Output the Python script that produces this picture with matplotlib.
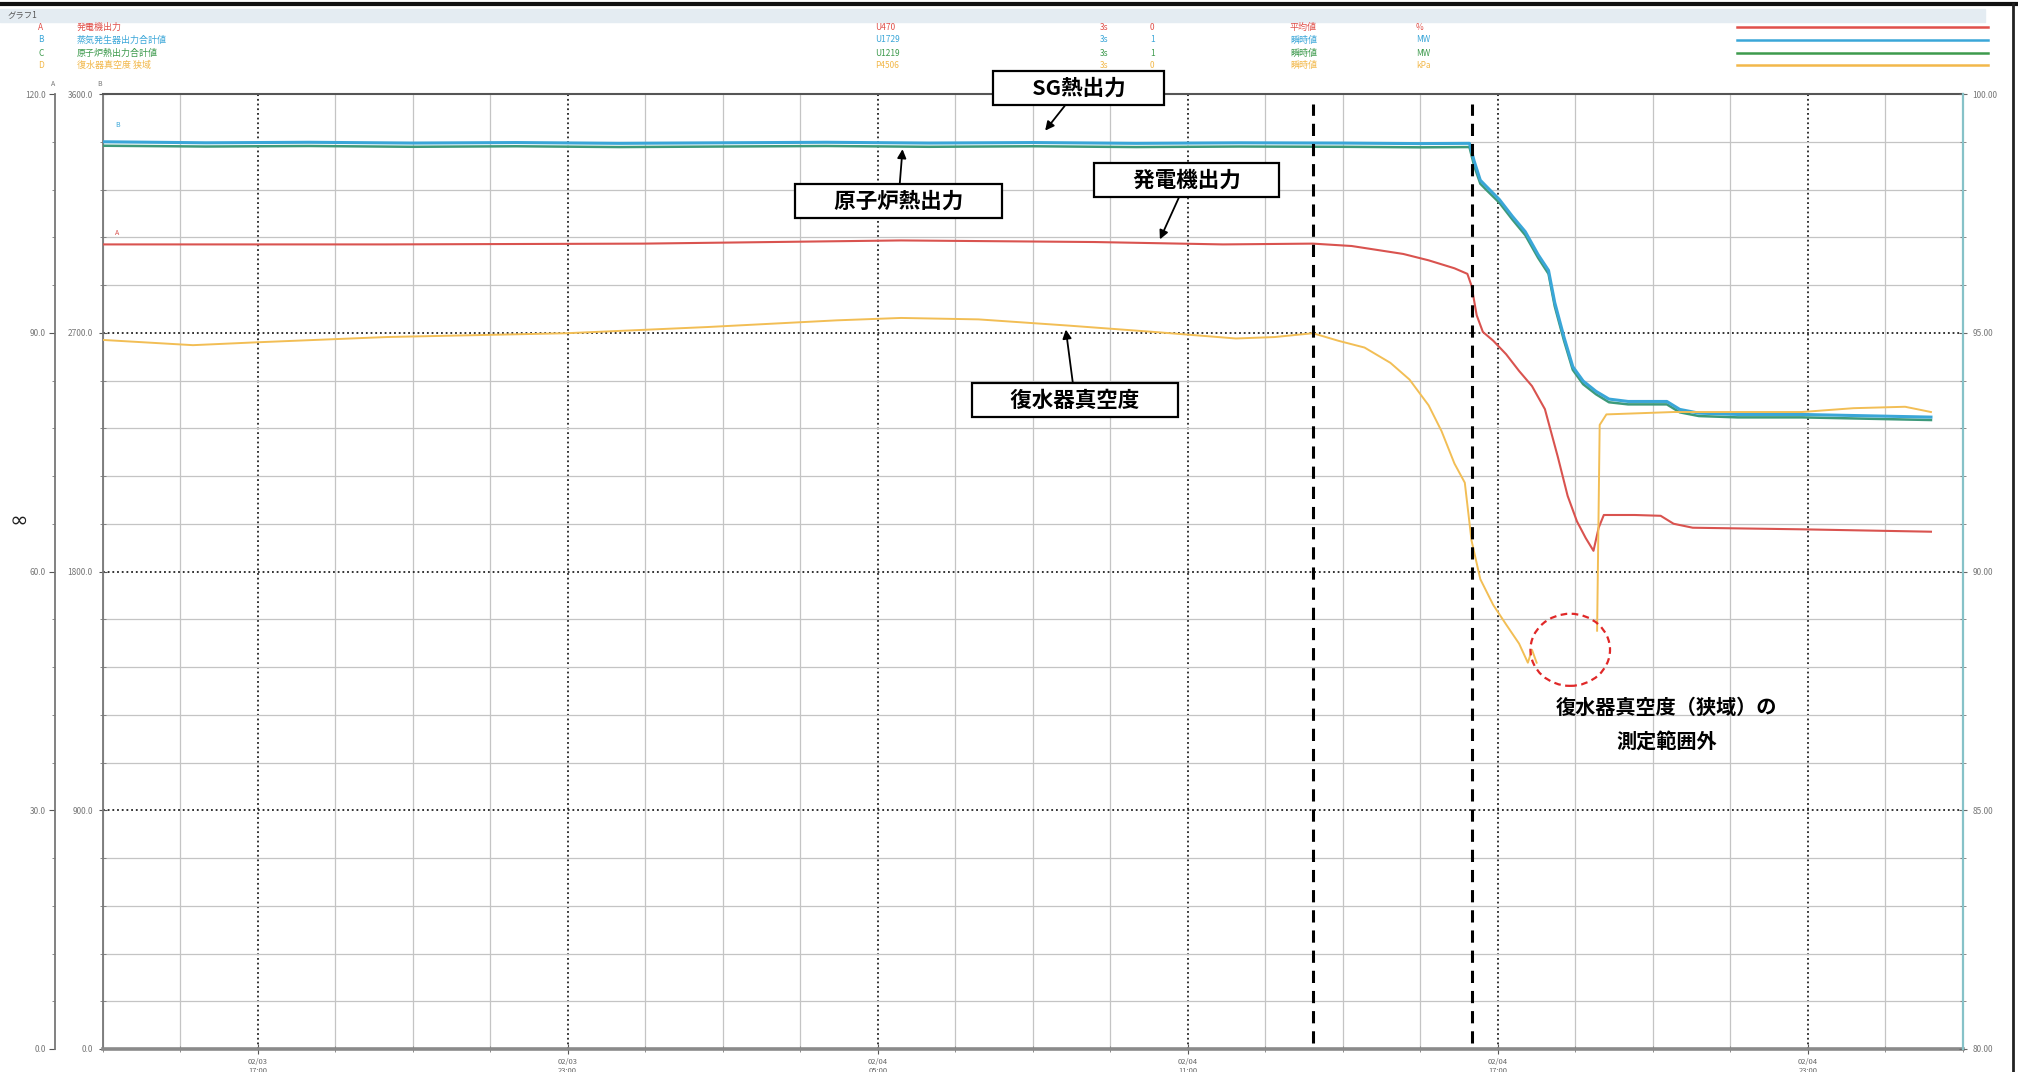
import matplotlib
matplotlib.use("Agg")
import matplotlib.pyplot as plt
from matplotlib.lines import Line2D
from matplotlib.patches import Ellipse, Rectangle
from matplotlib.ticker import MultipleLocator, FixedLocator, FixedFormatter
import numpy as np

plt.rcParams['font.family'] = ['Noto Sans CJK JP', 'DejaVu Sans']

# ---------------- data ----------------
hours_thermal = [0, 2, 4, 6, 8, 10, 12, 14, 16, 18, 20, 22, 24, 25.5, 26.45,
                 26.54, 26.66, 26.78, 27.03, 27.28, 27.53, 27.78, 27.98, 28.10,
                 28.28, 28.45, 28.65, 28.90, 29.15, 29.52, 30.27, 30.52, 30.89,
                 31.64, 32.88, 34.13, 35.38]
sg_output_mw = [3420, 3416, 3418, 3415, 3417, 3414, 3416, 3418, 3415, 3417, 3414,
                3416, 3415, 3413, 3414, 3348, 3275, 3251, 3202, 3139, 3081, 2994,
                2935, 2814, 2683, 2572, 2518, 2479, 2450, 2441, 2441, 2411, 2397,
                2392, 2392, 2387, 2382]
reactor_output_mw = [3405, 3402, 3404, 3401, 3403, 3400, 3402, 3404, 3401, 3403, 3400,
                     3402, 3401, 3399, 3400, 3330, 3262, 3238, 3190, 3127, 3068, 2982,
                     2922, 2800, 2670, 2560, 2506, 2468, 2438, 2430, 2430, 2400, 2386,
                     2381, 2381, 2376, 2371]

hours_gen = [0, 5.49, 10.47, 15.45, 19.19, 21.68, 23.42, 24.17, 24.67, 25.17, 25.66,
             26.16, 26.41, 26.49, 26.59, 26.71, 26.91, 27.16, 27.41, 27.66, 27.91,
             28.16, 28.35, 28.53, 28.70, 28.85, 28.95, 29.05, 29.65, 30.15, 30.40,
             30.77, 32.88, 35.38]
generator_output_pct = [101.1, 101.1, 101.2, 101.6, 101.4, 101.1, 101.2, 100.9, 100.4,
                        99.9, 99.1, 98.1, 97.4, 95.9, 92.2, 90.1, 89.0, 87.3, 85.2, 83.3,
                        80.4, 74.4, 69.5, 66.3, 64.2, 62.6, 65.5, 67.1, 67.1, 67.0, 66.0,
                        65.5, 65.3, 65.0]

hours_vac = [0, 1.75, 2.99, 5.49, 8.98, 11.71, 14.21, 15.45, 16.95, 18.69, 20.43, 21.93,
             22.68, 23.42, 23.92, 24.42, 24.92, 25.29, 25.66, 25.91, 26.16, 26.36, 26.49,
             26.66, 26.91, 27.16, 27.41, 27.58, 27.66, 27.75, 28.3, 28.92, 28.97, 29.10,
             30.40, 32.88, 33.88, 34.88, 35.38]
vacuum_kpa = [94.85, 94.74, 94.80, 94.91, 94.99, 95.12, 95.26, 95.31, 95.28, 95.15, 95.01,
              94.88, 94.91, 94.99, 94.83, 94.69, 94.37, 94.02, 93.48, 92.94, 92.26, 91.86,
              90.65, 89.84, 89.30, 88.89, 88.49, 88.09, 88.36, 88.09, np.nan, 88.76, 93.07,
              93.29, 93.34, 93.34, 93.42, 93.45, 93.34]

event_hours = [23.42, 26.49]

x_tick_hours = [3, 9, 15, 21, 27, 33]
x_tick_labels = ["02/03\n17:00", "02/03\n23:00", "02/04\n05:00",
                 "02/04\n11:00", "02/04\n17:00", "02/04\n23:00"]
mw_ticks = [0, 900, 1800, 2700, 3600]
mw_tick_labels = ["0.0", "900.0", "1800.0", "2700.0", "3600.0"]
pct_ticks = [0, 30, 60, 90, 120]
pct_tick_labels = ["0.0", "30.0", "60.0", "90.0", "120.0"]
vac_ticks = [80, 85, 90, 95, 100]
vac_tick_labels = ["80.00", "85.00", "90.00", "95.00", "100.00"]

legend_ids = ["A", "B", "C", "D"]
legend_names = ["発電機出力", "蒸気発生器出力合計値", "原子炉熱出力合計値", "復水器真空度 狭域"]
legend_codes = ["U470", "U1729", "U1219", "P4506"]
legend_periods = ["3s", "3s", "3s", "3s"]
legend_flags = ["0", "1", "1", "0"]
legend_kinds = ["平均値", "瞬時値", "瞬時値", "瞬時値"]
legend_units = ["%", "MW", "MW", "kPa"]
legend_colors = ["#e0504a", "#3aa6d8", "#3d9a4d", "#f2b84a"]

# ---------------- figure ----------------
W, H = 2018, 1072
fig = plt.figure(figsize=(W / 100, H / 100), dpi=100)
fig.patch.set_facecolor("white")

L, R, T, B = 102.5, 1963, 94, 1049
ax = fig.add_axes([L / W, (H - B) / H, (R - L) / W, (B - T) / H])
ax.set_xlim(0, 36)
ax.set_ylim(0, 3600)

ax.xaxis.set_major_locator(FixedLocator(x_tick_hours))
ax.xaxis.set_major_formatter(FixedFormatter(x_tick_labels))
ax.xaxis.set_minor_locator(MultipleLocator(1.5))
ax.yaxis.set_major_locator(FixedLocator(mw_ticks))
ax.yaxis.set_major_formatter(FixedFormatter(mw_tick_labels))
ax.yaxis.set_minor_locator(MultipleLocator(180))

ax.grid(which="major", color="#222222", linestyle=(0, (1, 1.6)), linewidth=1.3)
ax.grid(which="minor", color="#c4c4c4", linestyle="-", linewidth=0.9)
ax.set_axisbelow(True)

ax.spines["left"].set_color("#777777")
ax.spines["left"].set_linewidth(1.3)
ax.spines["bottom"].set_color("#8a8a8a")
ax.spines["bottom"].set_linewidth(2.6)
ax.spines["top"].set_color("#555555")
ax.spines["top"].set_linewidth(1.5)
ax.spines["right"].set_visible(False)

ax.tick_params(axis="x", which="major", direction="inout", length=7, color="#555555",
               labelsize=5.5, labelcolor="#666666", pad=3)
ax.tick_params(axis="x", which="minor", direction="inout", length=4, color="#777777")
ax.tick_params(axis="y", which="major", direction="inout", length=6, color="#555555",
               labelsize=6, labelcolor="#777777", pad=4)
ax.tick_params(axis="y", which="minor", direction="inout", length=4, color="#777777")

ax.plot(hours_thermal, reactor_output_mw, color="#3d9a7a", lw=1.8, zorder=3)
ax.plot(hours_thermal, sg_output_mw, color="#3aa6d8", lw=2.2, zorder=4)

# generator output on outer left axis
ax_pct = ax.twinx()
ax_pct.set_ylim(0, 120)
ax_pct.spines["right"].set_visible(False)
ax_pct.spines["top"].set_visible(False)
ax_pct.spines["bottom"].set_visible(False)
ax_pct.spines["left"].set_visible(True)
ax_pct.spines["left"].set_position(("outward", 34))
ax_pct.spines["left"].set_color("#777777")
ax_pct.spines["left"].set_linewidth(1.3)
ax_pct.yaxis.set_ticks_position("left")
ax_pct.yaxis.set_label_position("left")
ax_pct.yaxis.set_major_locator(FixedLocator(pct_ticks))
ax_pct.yaxis.set_major_formatter(FixedFormatter(pct_tick_labels))
ax_pct.yaxis.set_minor_locator(MultipleLocator(6))
ax_pct.tick_params(axis="y", which="major", direction="out", length=4, color="#555555",
                   labelsize=6, labelcolor="#777777", pad=3)
ax_pct.tick_params(axis="y", which="minor", direction="out", length=2.5, color="#777777")
ax_pct.plot(hours_gen, generator_output_pct, color="#d9534f", lw=1.5, zorder=5)

# vacuum on right axis
ax_vac = ax.twinx()
ax_vac.set_ylim(80, 100)
for s in ["left", "top", "bottom"]:
    ax_vac.spines[s].set_visible(False)
ax_vac.spines["right"].set_color("#86c2c8")
ax_vac.spines["right"].set_linewidth(1.6)
ax_vac.yaxis.set_major_locator(FixedLocator(vac_ticks))
ax_vac.yaxis.set_major_formatter(FixedFormatter(vac_tick_labels))
ax_vac.yaxis.set_minor_locator(MultipleLocator(1))
ax_vac.tick_params(axis="y", which="major", direction="inout", length=6, color="#666666",
                   labelsize=6, labelcolor="#777777", pad=4)
ax_vac.tick_params(axis="y", which="minor", direction="inout", length=4, color="#777777")
ax_vac.plot(hours_vac, vacuum_kpa, color="#f2be55", lw=1.4, zorder=4)

for h in event_hours:
    ax_vac.axvline(h, ymin=0.006, ymax=0.99, color="black", lw=2.2,
                   linestyle=(0, (4, 2.6)), zorder=6)

ax_vac.add_patch(Ellipse((28.40, 88.36), width=1.54, height=1.51, fill=False,
                         ec="#e02828", lw=1.6, linestyle=(0, (3, 2)), zorder=7))

# ---------------- annotations ----------------
box = dict(boxstyle="square,pad=0.3", fc="white", ec="black", lw=1.6)
arrow = dict(arrowstyle="-|>", color="black", lw=1.3, mutation_scale=13,
             shrinkA=0, shrinkB=0)
fs = 15.5
notes = [
    ("\u3000\u2002SG熱出力\u2002\u3000", (18.24, 3462), (18.89, 3622)),
    ("\u3000\u2002原子炉熱出力\u2002\u3000", (15.48, 3392), (15.40, 3197)),
    ("\u3000\u2002発電機出力\u2002\u3000", (20.46, 3052), (20.98, 3275)),
    ("\u3000\u2002復水器真空度\u2002\u3000", (18.64, 2712), (18.82, 2445)),
]
for txt, xy, xyt in notes:
    ax_vac.annotate(txt, xy=xy, xytext=xyt, xycoords=ax.transData,
                    textcoords=ax.transData, ha="center", va="center",
                    fontsize=fs, fontweight="bold", bbox=box, arrowprops=arrow,
                    annotation_clip=False, zorder=10)

ax_vac.text(30.27, 1223, "復水器真空度（狭域）の\n測定範囲外", transform=ax.transData,
            ha="center", va="center", fontsize=14.5, fontweight="bold",
            linespacing=1.75, zorder=10)

# small trace markers
ax.text(0.25, 3475, "B", fontsize=5, color="#3aa6d8")
ax_pct.text(0.25, 102.3, "A", fontsize=5, color="#d9534f")

# ---------------- header / legend ----------------
fig.add_artist(Rectangle((0, 1 - 22 / H), 1985 / W, 13 / H, transform=fig.transFigure,
                         color="#e4ecf2", zorder=0))
fig.add_artist(Line2D([0, 1], [1 - 4 / H, 1 - 4 / H], transform=fig.transFigure,
                      color="#111111", lw=3))
fig.add_artist(Line2D([2013 / W, 2013 / W], [0, 1 - 4 / H], transform=fig.transFigure,
                      color="#222222", lw=2))
fig.text(8 / W, 1 - 15 / H, "グラフ1", fontsize=6, color="#555555", va="center")
fig.text(53 / W, 1 - 84 / H, "A", fontsize=5, color="#777777", ha="center", va="center")
fig.text(100 / W, 1 - 84 / H, "B", fontsize=5, color="#777777", ha="center", va="center")

row_y = [27, 40, 53, 65]
for i in range(4):
    yy = 1 - row_y[i] / H
    c = legend_colors[i]
    fig.text(41 / W, yy, legend_ids[i], fontsize=6, color=c, va="center", ha="center")
    fig.text(77 / W, yy, legend_names[i], fontsize=6.5, color=c, va="center")
    fig.text(875 / W, yy, legend_codes[i], fontsize=6, color=c, va="center")
    fig.text(1100 / W, yy, legend_periods[i], fontsize=6, color=c, va="center")
    fig.text(1150 / W, yy, legend_flags[i], fontsize=6, color=c, va="center")
    fig.text(1290 / W, yy, legend_kinds[i], fontsize=6.5, color=c, va="center")
    fig.text(1416 / W, yy, legend_units[i], fontsize=6, color=c, va="center")
    fig.add_artist(Line2D([1737 / W, 1988 / W], [yy, yy], transform=fig.transFigure,
                          color=c, lw=1.8))

fig.text(19 / W, 1 - 521 / H, "∞", fontsize=16, color="#222222", ha="center", va="center",
         family="DejaVu Sans")

fig.savefig("out.png", dpi=100, facecolor="white")
